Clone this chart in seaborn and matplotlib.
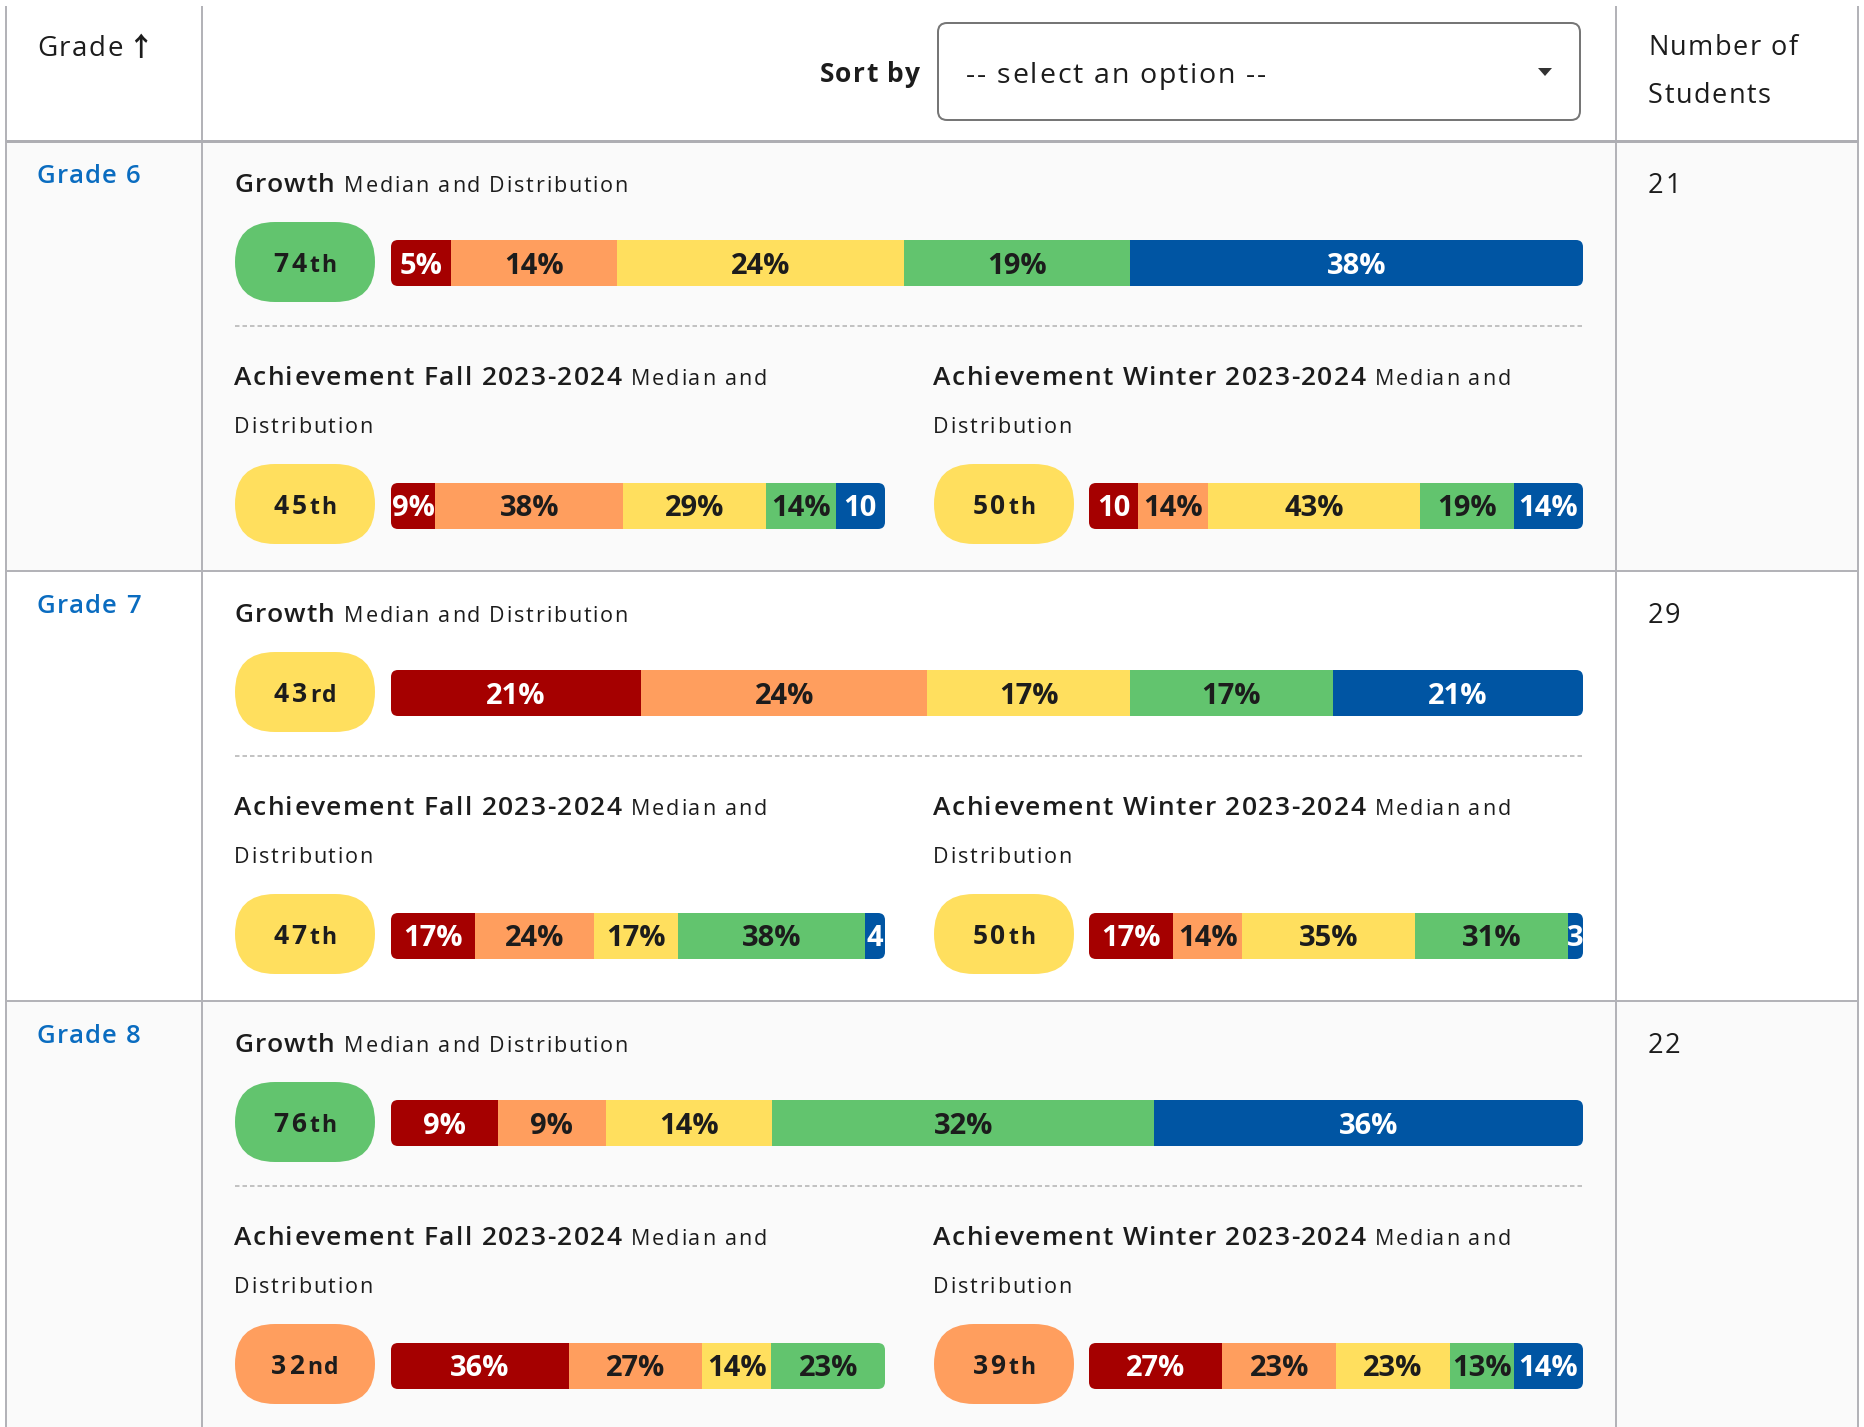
import matplotlib
matplotlib.use("Agg")
import matplotlib.pyplot as plt
from matplotlib.patches import FancyBboxPatch, Rectangle, Polygon
import seaborn as sns
import numpy as np

# ---------------- data ----------------
grades = ["Grade 6", "Grade 7", "Grade 8"]
num_students = [21, 29, 22]
growth_median = [74, 43, 76]
growth_dist = [[5, 14, 24, 19, 38], [21, 24, 17, 17, 21], [9, 9, 14, 32, 36]]
fall_median = [45, 47, 32]
fall_dist = [[9, 38, 29, 14, 10], [17, 24, 17, 38, 4], [36, 27, 14, 23, 0]]
winter_median = [50, 50, 39]
winter_dist = [[10, 14, 43, 19, 14], [17, 14, 35, 31, 3], [27, 23, 23, 13, 14]]
band_cuts = [21, 41, 61, 81]
growth_title = "Growth"
fall_title = "Achievement Fall 2023-2024"
winter_title = "Achievement Winter 2023-2024"
subtitle = "Median and Distribution"
sort_label = "Sort by"
select_text = "-- select an option --"
col_headers = ["Grade", "Number of", "Students"]

# ---------------- style ----------------
sns.set_theme(style="white")
FONT = ["Open Sans", "DejaVu Sans"]
plt.rcParams["font.family"] = FONT

palette = sns.color_palette(["#a50000", "#ff9e5e", "#ffdf5e", "#62c46e", "#0055a3"])
label_colors = ["white", "#1c1c1c", "#1c1c1c", "#1c1c1c", "white"]
TXT = "#1c1c1c"
LINE = "#b3b3b8"
LINK = "#0a6cc0"

W, H = 1865, 1427
fig = plt.figure(figsize=(W / 100, H / 100), dpi=100)
fig.patch.set_facecolor("white")
ax = fig.add_axes([0, 0, 1, 1])
ax.set_xlim(0, W)
ax.set_ylim(H, 0)
ax.axis("off")
R = fig.canvas.get_renderer()


def pt(px):
    return px * 0.72


def text_w(t):
    return t.get_window_extent(R).width


def ordinal(n):
    if 10 <= n % 100 <= 20:
        return "th"
    return {1: "st", 2: "nd", 3: "rd"}.get(n % 10, "th")


def pen_positions(s, **kw):
    probe = ax.text(500, 500, "HH", **kw)
    w0 = text_w(probe)
    pos = []
    for k in range(len(s) + 1):
        probe.set_text("H" + s[:k] + "H")
        pos.append(text_w(probe) - w0)
    probe.remove()
    return pos


def spaced_width(s, track, **kw):
    return pen_positions(s, **kw)[-1] + (len(s) - 1) * track


def spaced_text(x, y, s, track=0.0, **kw):
    """Draw text with letter spacing; returns pen x after the last char."""
    kw.setdefault("va", "baseline")
    pos = pen_positions(s, **kw)
    for k, ch in enumerate(s):
        if ch == " ":
            continue
        ax.text(x + pos[k] + k * track, y, ch, ha="left", **kw)
    return x + pos[-1] + len(s) * track


LEFT, COL1, COL2, RIGHT, TOP = 6, 202, 1616, 1858, 6
HEAD_B, ROW_H = 141, 430

# row backgrounds
for i in range(3):
    top = HEAD_B + i * ROW_H
    if i % 2 == 0:
        ax.add_patch(Rectangle((LEFT, top), RIGHT - LEFT, ROW_H, fc="#fafafa", ec="none", zorder=0))

# grid lines
for x in [LEFT, COL1, COL2, RIGHT]:
    ax.plot([x, x], [TOP, H], color=LINE, lw=pt(2), zorder=1, solid_capstyle="butt")
ax.plot([LEFT, RIGHT], [HEAD_B, HEAD_B], color="#aeaeb3", lw=pt(3), zorder=1, solid_capstyle="butt")
for i in (1, 2):
    y = HEAD_B + i * ROW_H
    ax.plot([LEFT, RIGHT], [y, y], color=LINE, lw=pt(2), zorder=1, solid_capstyle="butt")

# header
spaced_text(37, 56, col_headers[0], 1.6, fontsize=20, color=TXT)
ax.text(127, 56, "\u2191", fontsize=19, color=TXT, va="baseline", ha="left", fontweight="bold",
        family=["Noto Sans CJK JP", "DejaVu Sans"])
sw = spaced_width(sort_label, 1.2, fontsize=19, fontweight="bold")
spaced_text(919 - sw, 82, sort_label, 1.2, fontsize=19, fontweight="bold", color=TXT)
ax.add_patch(FancyBboxPatch((938, 23), 642, 97, boxstyle="round,pad=0,rounding_size=9",
                            fc="white", ec="#767676", lw=pt(2), zorder=2))
spaced_text(966, 83, select_text, 1.8, fontsize=20.5, color=TXT, zorder=3)
ax.add_patch(Polygon([(1538, 68), (1552, 68), (1545, 76)], closed=True, fc="#333333", ec="none", zorder=3))
spaced_text(1648, 55, col_headers[1], 1.5, fontsize=19.5, color=TXT)
spaced_text(1648, 103, col_headers[2], 1.5, fontsize=19.5, color=TXT)


def title(x, y, main, sub, wrap=False):
    xe = spaced_text(x, y, main, 1.4, fontsize=19, fontweight="semibold", color=TXT, zorder=3)
    x2 = xe + 8
    if wrap:
        words = sub.split(" ")
        spaced_text(x2, y, " ".join(words[:-1]), 1.8, fontsize=15.5, color=TXT, zorder=3)
        spaced_text(x, y + 48, words[-1], 1.8, fontsize=15.5, color=TXT, zorder=3)
    else:
        spaced_text(x2, y, sub, 1.8, fontsize=15.5, color=TXT, zorder=3)


def pill(x, y, median):
    band = int(np.digitize(median, band_cuts))
    ax.add_patch(FancyBboxPatch((x, y), 140, 80, boxstyle="round,pad=0,rounding_size=40",
                                fc=palette[band], ec="none", zorder=2))
    num, suf = str(median), ordinal(median)
    kn = dict(fontsize=19, fontweight="bold", color=TXT, zorder=3)
    ks = dict(fontsize=16.5, fontweight="bold", color=TXT, zorder=3)
    trn, trs = 2.5, 1.5
    wn = pen_positions(num, **kn)[-1] + len(num) * trn + 1
    ws = spaced_width(suf, trs, **ks)
    x0 = x + 70 - (wn + ws) / 2
    spaced_text(x0, y + 50, num, trn, **kn)
    spaced_text(x0 + wn, y + 50, suf, trs, **ks)


def stacked_bar(x, y, w, h, dist):
    bax = fig.add_axes([x / W, 1 - (y + h) / H, w / W, h / H])
    bax.set_xlim(0, 100)
    bax.set_ylim(-0.5, 0.5)
    bax.axis("off")
    clip = FancyBboxPatch((x, y), w, h, boxstyle="round,pad=0,rounding_size=7", transform=ax.transData)
    left = 0
    for k, v in enumerate(dist):
        if v <= 0:
            continue
        bars = bax.barh(0, v, left=left, height=1.0, color=palette[k], linewidth=0)
        for b in bars:
            b.set_clip_path(clip)
        seg_px = v / 100 * w
        lab = f"{v}%"
        t = bax.text(left + v / 2, -10.5 / h, lab, ha="center", va="baseline", fontsize=21,
                     fontweight="bold", color=label_colors[k])
        while len(lab) > 1 and text_w(t) > seg_px + 2:
            lab = lab[:-1]
            t.set_text(lab)
        t.set_clip_path(Rectangle((left, -0.5), v, 1, transform=bax.transData))
        left += v


for i in range(3):
    top = HEAD_B + i * ROW_H
    spaced_text(37, top + 42, grades[i], 1.2, color=LINK, fontsize=18.5, fontweight="semibold")
    spaced_text(1648, top + 52, str(num_students[i]), 1.5, color=TXT, fontsize=19.5)

    title(234, top + 51, growth_title, subtitle)
    pill(235, top + 81, growth_median[i])
    stacked_bar(391, top + 99, 1192, 46, growth_dist[i])

    ax.plot([235, 1583], [top + 185, top + 185], color="#b0b0b0", lw=pt(1.5),
            dashes=(3, 2), zorder=2)

    title(234, top + 244, fall_title, subtitle, wrap=True)
    title(933, top + 244, winter_title, subtitle, wrap=True)
    pill(235, top + 323, fall_median[i])
    stacked_bar(391, top + 342, 494, 46, fall_dist[i])
    pill(934, top + 323, winter_median[i])
    stacked_bar(1089, top + 342, 494, 46, winter_dist[i])

fig.savefig("out.png", dpi=100, facecolor="white")
